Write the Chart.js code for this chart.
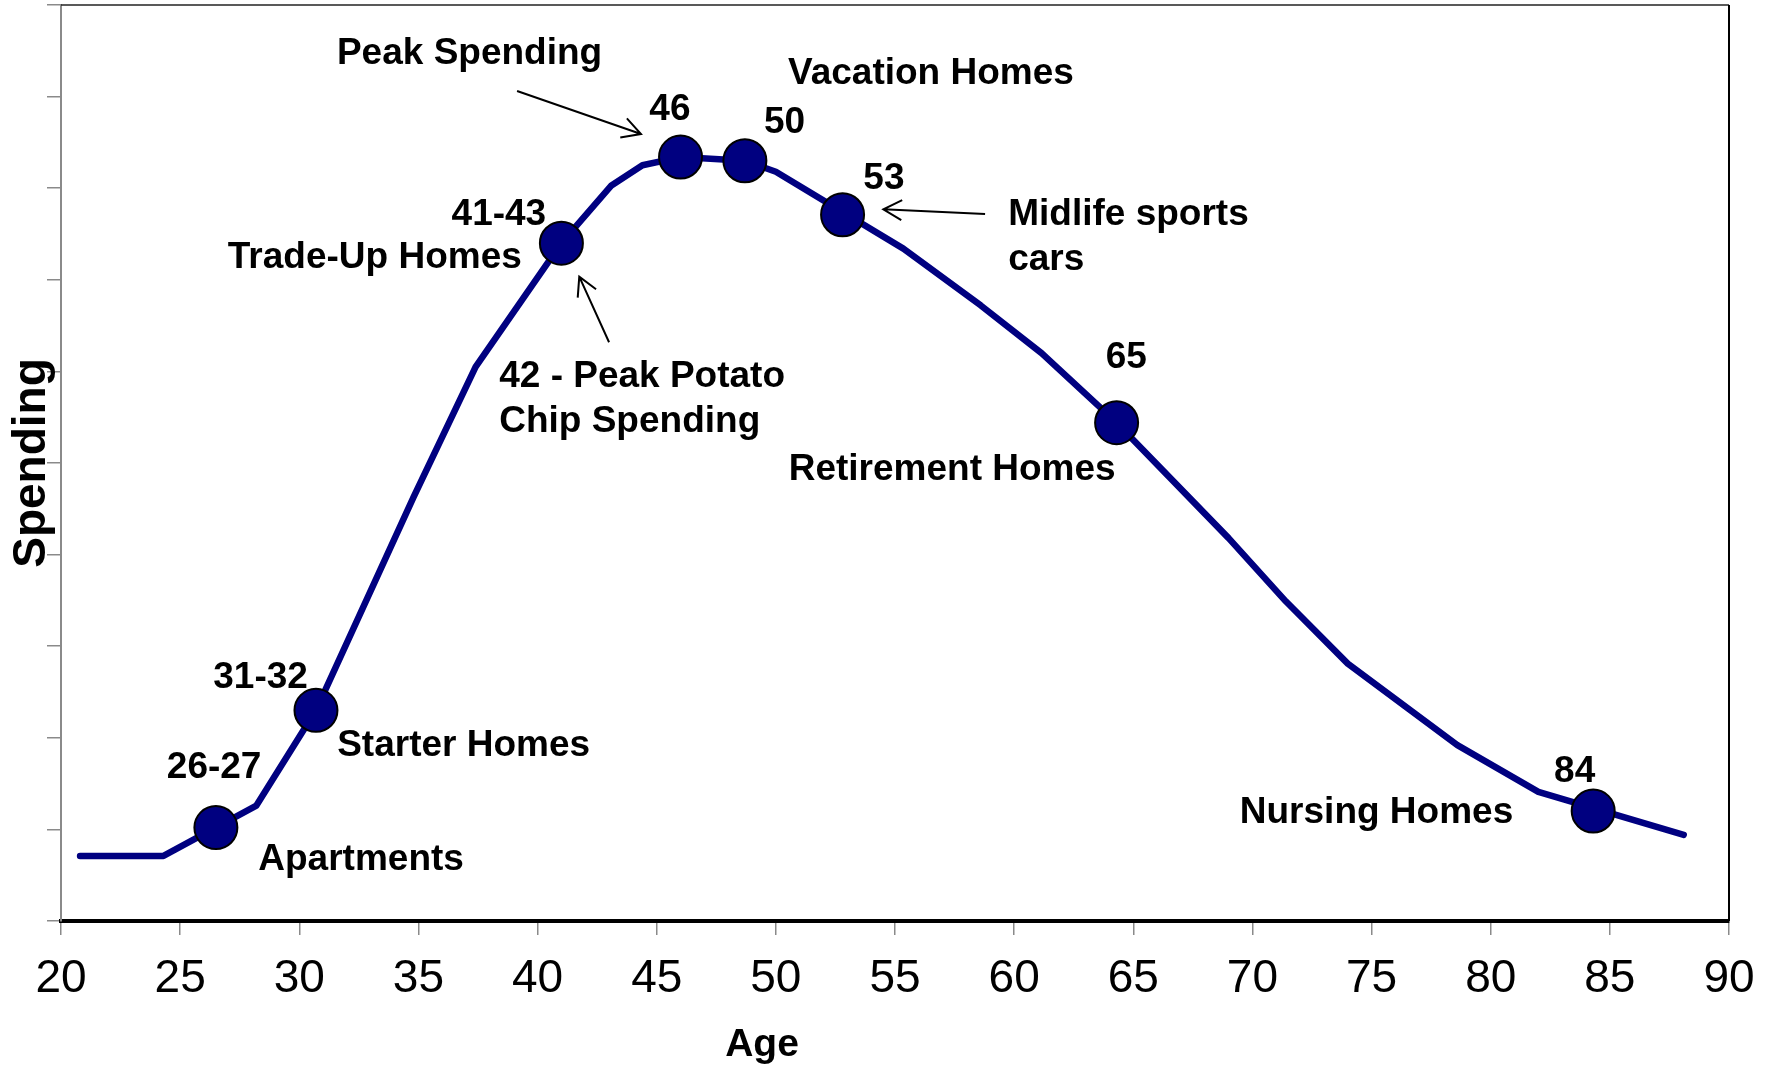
<!DOCTYPE html>
<html lang="en">
  <head>
    <meta charset="UTF-8" />
    <title>Spending by Age</title>
    <script src="https://cdn.jsdelivr.net/npm/chart.js@4.4.1/dist/chart.umd.min.js"></script>
    <style>
      body { margin: 0; background: #fff; }
      #chart { display: block; }
    </style>
  </head>
  <body>
    <canvas id="chart" width="1772" height="1065"></canvas>

    <script>
      // spending curve (age, relative spending 0-10)
      var lineAges = [20.8, 24.3, 28.2, 30.7, 34.8, 37.4, 41.0, 43.1, 44.4, 46.0, 48.7, 50.0, 55.35, 58.6, 61.15, 64.3, 69.0, 71.4, 74.0, 78.6, 82.0, 88.1];
      var lineSpending = [0.71, 0.71, 1.26, 2.3, 4.63, 6.05, 7.4, 8.03, 8.25, 8.34, 8.3, 8.18, 7.34, 6.72, 6.2, 5.44, 4.18, 3.49, 2.81, 1.92, 1.41, 0.94];

      // highlighted life stages
      var markerAges = [26.5, 30.7, 41.0, 46.0, 48.7, 52.8, 64.3, 84.3];
      var markerSpending = [1.02, 2.3, 7.4, 8.34, 8.3, 7.71, 5.44, 1.2];

      var xTicks = [20, 25, 30, 35, 40, 45, 50, 55, 60, 65, 70, 75, 80, 85, 90];

      // annotation texts, anchored in data units (left edge, baseline)
      var noteTexts = ["Peak Spending", "Vacation Homes", "46", "50", "53", "Midlife sports", "cars",
        "41-43", "Trade-Up Homes", "42 - Peak Potato", "Chip Spending", "65", "Retirement Homes",
        "31-32", "Starter Homes", "26-27", "Apartments", "84", "Nursing Homes"];
      var noteAges = [31.58, 50.51, 44.69, 49.5, 53.67, 59.75, 59.75, 36.39, 27.0, 38.39, 38.39, 63.84, 50.54,
        26.39, 31.59, 24.44, 28.28, 82.66, 69.47];
      var noteSpending = [9.356, 9.143, 8.745, 8.599, 7.988, 7.598, 7.107, 7.598, 7.126, 5.833, 5.342, 6.034, 4.814,
        2.547, 1.801, 1.558, 0.557, 1.521, 1.073];

      // arrows: tail -> head
      var arrowFrom = [[39.14, 9.061], [43.0, 6.318], [58.78, 7.718]];
      var arrowTo = [[44.34, 8.592], [41.75, 7.034], [54.51, 7.77]];

      var FONT = "'Liberation Sans', Arial, sans-serif";
      Chart.defaults.font.family = FONT;

      function xy(xs, ys) {
        return xs.map(function (x, i) {
          return { x: x, y: ys[i] };
        });
      }

      var extras = {
        id: "extras",
        afterDraw: function (chart) {
          var ctx = chart.ctx;
          var area = chart.chartArea;
          var sx = chart.scales.x;
          var sy = chart.scales.y;

          // frame top / right
          ctx.save();
          ctx.strokeStyle = "#222";
          ctx.lineWidth = 1.5;
          ctx.beginPath();
          ctx.moveTo(area.left, area.top);
          ctx.lineTo(area.right, area.top);
          ctx.stroke();
          ctx.strokeStyle = "#000";
          ctx.lineWidth = 2;
          ctx.beginPath();
          ctx.moveTo(area.right, area.top);
          ctx.lineTo(area.right, area.bottom);
          ctx.stroke();

          // notes
          ctx.fillStyle = "#000";
          ctx.font = "bold 37px " + FONT;
          ctx.textAlign = "left";
          ctx.textBaseline = "alphabetic";
          noteTexts.forEach(function (t, i) {
            ctx.fillText(t, sx.getPixelForValue(noteAges[i]), sy.getPixelForValue(noteSpending[i]));
          });

          // arrows
          ctx.strokeStyle = "#000";
          ctx.lineWidth = 2;
          arrowFrom.forEach(function (f, i) {
            var x0 = sx.getPixelForValue(f[0]), y0 = sy.getPixelForValue(f[1]);
            var x1 = sx.getPixelForValue(arrowTo[i][0]), y1 = sy.getPixelForValue(arrowTo[i][1]);
            var a = Math.atan2(y1 - y0, x1 - x0);
            ctx.beginPath();
            ctx.moveTo(x0, y0);
            ctx.lineTo(x1, y1);
            ctx.moveTo(x1 - 21 * Math.cos(a - 0.5), y1 - 21 * Math.sin(a - 0.5));
            ctx.lineTo(x1, y1);
            ctx.lineTo(x1 - 21 * Math.cos(a + 0.5), y1 - 21 * Math.sin(a + 0.5));
            ctx.stroke();
          });

          // axis titles
          ctx.font = "bold 39px " + FONT;
          ctx.textAlign = "center";
          ctx.fillText("Age", 762, 1056);
          ctx.translate(45, 463);
          ctx.rotate(-Math.PI / 2);
          ctx.font = "bold 46px " + FONT;
          ctx.fillText("Spending", 0, 0);
          ctx.restore();
        },
      };

      new Chart(document.getElementById("chart"), {
        type: "scatter",
        data: {
          datasets: [
            {
              data: xy(markerAges, markerSpending),
              order: 1,
              showLine: false,
              pointRadius: 21.5,
              pointBorderWidth: 2,
              pointBorderColor: "#000",
              pointBackgroundColor: "#000080",
            },
            {
              data: xy(lineAges, lineSpending),
              order: 2,
              showLine: true,
              pointRadius: 0,
              borderColor: "#000080",
              borderWidth: 6.5,
              borderCapStyle: "round",
              borderJoinStyle: "round",
              tension: 0,
            },
          ],
        },
        options: {
          responsive: false,
          animation: false,
          layout: { autoPadding: false, padding: { top: 5, right: 43, left: 0, bottom: 0 } },
          plugins: { legend: { display: false }, tooltip: { enabled: false } },
          scales: {
            x: {
              type: "linear",
              min: 20,
              max: 90,
              afterFit: function (s) { s.height = 144; },
              afterBuildTicks: function (s) {
                s.ticks = xTicks.map(function (v) { return { value: v }; });
              },
              ticks: { color: "#000", font: { size: 46 }, padding: 17, maxRotation: 0 },
              grid: { drawOnChartArea: false, tickLength: 14, color: "#8a8a8a", lineWidth: 1.5 },
              border: { color: "#000", width: 4 },
            },
            y: {
              min: 0,
              max: 10,
              afterFit: function (s) { s.width = 61; },
              ticks: { display: false, stepSize: 1 },
              grid: { drawOnChartArea: false, tickLength: 14, color: "#8a8a8a", lineWidth: 1.5 },
              border: { color: "#8a8a8a", width: 2 },
            },
          },
        },
        plugins: [extras],
      });
    </script>
  </body>
</html>
